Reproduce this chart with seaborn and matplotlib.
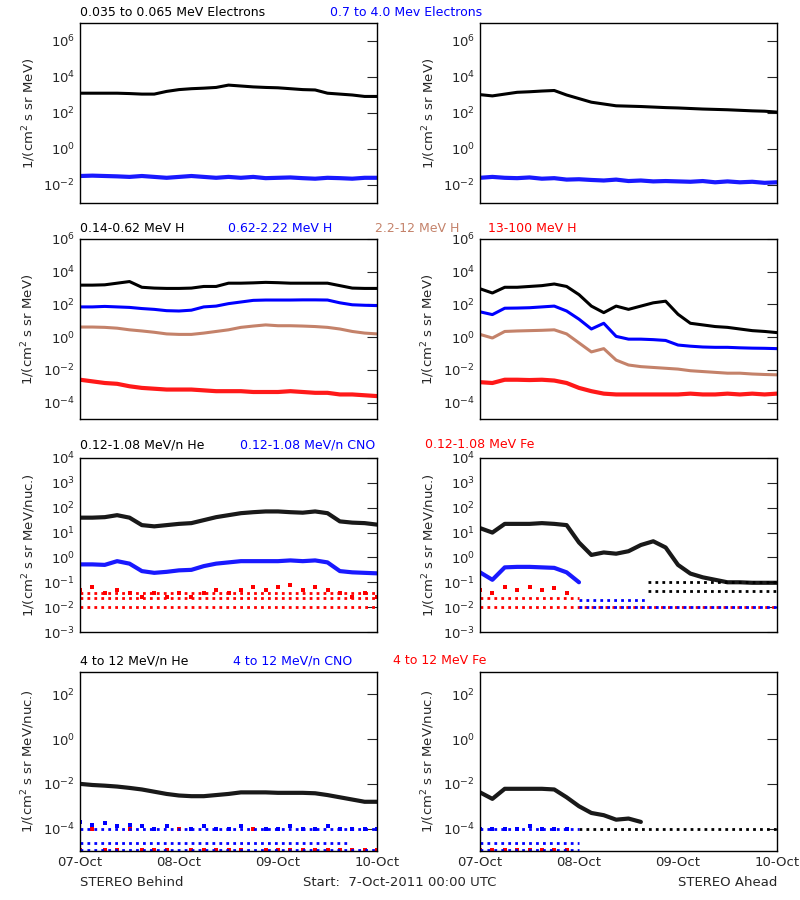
import numpy as np
import pandas as pd
import matplotlib
matplotlib.use("Agg")
import matplotlib.pyplot as plt
import seaborn as sns
from matplotlib.ticker import FixedLocator

sns.set_style("white")
plt.rcParams['font.family'] = ['DejaVu Sans']

# time axis: every 3 hours over 3 days (in days)
hours = list(range(0, 73, 3))
day_labels = ["07-Oct", "08-Oct", "09-Oct", "10-Oct"]

# ---- log10 flux values ----
# Row 1: electrons
e_lo_B = [3.1,3.1,3.1,3.1,3.08,3.05,3.05,3.2,3.3,3.35,3.38,3.42,3.55,3.5,3.45,3.42,3.4,3.35,3.3,3.28,3.1,3.05,3.0,2.92,2.92]
e_hi_B = [-1.5,-1.48,-1.5,-1.52,-1.55,-1.5,-1.55,-1.6,-1.55,-1.5,-1.55,-1.6,-1.55,-1.6,-1.55,-1.62,-1.6,-1.58,-1.62,-1.65,-1.6,-1.62,-1.65,-1.6,-1.6]
e_lo_A = [3.02,2.95,3.05,3.15,3.18,3.22,3.25,3.0,2.8,2.6,2.5,2.4,2.38,2.36,2.33,2.3,2.28,2.25,2.22,2.2,2.18,2.15,2.12,2.1,2.05]
e_hi_A = [-1.6,-1.55,-1.6,-1.62,-1.58,-1.65,-1.62,-1.7,-1.68,-1.72,-1.75,-1.7,-1.78,-1.75,-1.8,-1.78,-1.8,-1.82,-1.78,-1.85,-1.8,-1.85,-1.82,-1.88,-1.85]
# Row 2: protons
h1_B = [3.18,3.18,3.2,3.3,3.4,3.05,3.0,2.98,2.98,3.0,3.1,3.1,3.3,3.3,3.32,3.35,3.33,3.3,3.3,3.3,3.3,3.15,3.0,2.98,2.98]
h2_B = [1.85,1.85,1.88,1.85,1.82,1.75,1.7,1.62,1.6,1.65,1.85,1.9,2.05,2.15,2.25,2.27,2.27,2.27,2.28,2.28,2.27,2.1,1.98,1.95,1.93]
h3_B = [0.62,0.62,0.6,0.55,0.45,0.38,0.3,0.2,0.17,0.17,0.25,0.35,0.45,0.6,0.68,0.75,0.7,0.7,0.68,0.65,0.6,0.5,0.35,0.25,0.2]
h4_B = [-2.6,-2.7,-2.8,-2.85,-3.0,-3.1,-3.15,-3.2,-3.2,-3.2,-3.25,-3.3,-3.3,-3.3,-3.35,-3.35,-3.35,-3.3,-3.35,-3.4,-3.4,-3.5,-3.5,-3.55,-3.6]
h1_A = [2.96,2.7,3.05,3.05,3.1,3.15,3.25,3.1,2.6,1.9,1.5,1.9,1.7,1.9,2.1,2.2,1.4,0.85,0.75,0.65,0.6,0.5,0.4,0.35,0.28]
h2_A = [1.55,1.38,1.77,1.78,1.8,1.85,1.9,1.6,1.1,0.5,0.85,0.05,-0.12,-0.12,-0.15,-0.2,-0.48,-0.55,-0.6,-0.62,-0.62,-0.65,-0.67,-0.68,-0.7]
h3_A = [0.17,-0.05,0.35,0.38,0.4,0.42,0.45,0.2,-0.35,-0.9,-0.7,-1.4,-1.7,-1.8,-1.85,-1.9,-1.95,-2.05,-2.1,-2.15,-2.2,-2.2,-2.25,-2.28,-2.3]
h4_A = [-2.75,-2.8,-2.6,-2.6,-2.62,-2.6,-2.65,-2.8,-3.1,-3.3,-3.45,-3.5,-3.5,-3.5,-3.5,-3.5,-3.5,-3.45,-3.5,-3.5,-3.45,-3.5,-3.45,-3.5,-3.45]
# Row 3: low-energy heavy ions
he_lo_B = [1.6,1.6,1.62,1.7,1.6,1.3,1.25,1.3,1.35,1.38,1.5,1.62,1.7,1.78,1.82,1.85,1.85,1.82,1.8,1.85,1.78,1.45,1.4,1.38,1.32]
cno_lo_B = [-0.28,-0.28,-0.3,-0.15,-0.25,-0.55,-0.62,-0.58,-0.52,-0.5,-0.35,-0.25,-0.2,-0.15,-0.15,-0.15,-0.15,-0.12,-0.15,-0.12,-0.2,-0.55,-0.6,-0.62,-0.64]
fe_lo_B = [-1.3,-1.2,-1.45,-1.3,-1.45,-1.6,-1.45,-1.6,-1.45,-1.6,-1.45,-1.3,-1.45,-1.3,-1.2,-1.3,-1.2,-1.1,-1.3,-1.2,-1.3,-1.45,-1.6,-1.45,-1.6]
he_lo_A = [1.18,1.0,1.35,1.35,1.35,1.38,1.35,1.3,0.6,0.1,0.2,0.15,0.25,0.5,0.65,0.4,-0.3,-0.65,-0.8,-0.9,-1.0,-1.0,-1.02,-1.02,-1.02]
cno_lo_A = [-0.6,-0.9,-0.4,-0.38,-0.38,-0.4,-0.42,-0.6,-1.0]
fe_lo_A = [-1.3,-1.45,-1.2,-1.3,-1.2,-1.3,-1.25,-1.45]
# Row 4: high-energy heavy ions
he_hi_B = [-2.0,-2.05,-2.08,-2.12,-2.18,-2.25,-2.35,-2.45,-2.52,-2.55,-2.55,-2.5,-2.45,-2.38,-2.38,-2.38,-2.4,-2.4,-2.4,-2.42,-2.5,-2.6,-2.7,-2.8,-2.8]
cno_hi_B = [-3.7,-3.85,-3.75,-3.9,-3.85,-3.9,-4.0,-3.9,-4.0,-4.0,-3.9,-4.0,-4.0,-3.9,-4.0,-4.0,-4.0,-3.9,-4.0,-4.0,-3.9,-4.0,-4.0,-4.0,-4.0]
fe_hi_B = [-4.95,-4.0,-4.95,-4.95,-4.0,-4.95,-4.95,-4.95,-4.0,-4.95,-4.95,-4.95,-4.95,-4.95,-4.0,-4.95,-4.95,-4.95,-4.95,-4.95,-4.95,-4.95,-4.95,-4.95,-4.95]
he_hi_A = [-2.38,-2.67,-2.22,-2.22,-2.22,-2.22,-2.25,-2.6,-3.0,-3.3,-3.4,-3.6,-3.55,-3.7]
cno_hi_A = [-4.0,-4.0,-4.0,-4.0,-3.9,-4.0,-4.0,-4.0]
fe_hi_A = [-4.95,-4.95,-4.95,-4.95,-4.95,-4.95,-4.95,-4.95]

# quantized count floors (log10 value, start day, end day, colour)
floors_lo_B = [(-2.0, 0, 3, 'red'), (-1.62, 0, 3, 'red'), (-1.45, 0, 3, 'red')]
floors_lo_A = [(-2.0, 0, 3, 'red'), (-2.0, 1.0, 3, 'blue'), (-1.7, 1.0, 1.7, 'blue'),
               (-1.62, 0, 1.0, 'red'), (-1.0, 1.7, 3, 'black'), (-1.36, 1.7, 3, 'black')]
floors_hi_B = [(-4.95, 0, 3, 'blue'), (-4.65, 0, 2.7, 'blue'), (-4.0, 0, 3, 'blue')]
floors_hi_A = [(-4.0, 1.0, 3, 'black'), (-4.65, 0, 1.0, 'blue'), (-4.95, 0, 1.0, 'blue'), (-4.0, 0, 1.0, 'blue')]

BLK, BLU, BRN, RED = 'black', '#0000ff', '#c4826a', '#ff0000'
CMAP = {'black': BLK, 'blue': BLU, 'red': RED}

fig = plt.figure(figsize=(8, 9), dpi=100)
xl = [80/800, 480/800]
w = 297/800
rows = [(1-203/900, 180/900, (1e-3, 1e7)),
        (1-419/900, 180/900, (1e-5, 1e6)),
        (1-632/900, 174/900, (1e-3, 1e4)),
        (1-851/900, 179/900, (1e-5, 1e3))]

panels = [
    [[(e_lo_B, BLK, 'line'), (e_hi_B, BLU, 'dots')], [(e_lo_A, BLK, 'line'), (e_hi_A, BLU, 'dots')], None, None],
    [[(h1_B, BLK, 'line'), (h2_B, BLU, 'line'), (h3_B, BRN, 'line'), (h4_B, RED, 'dots')],
     [(h1_A, BLK, 'line'), (h2_A, BLU, 'line'), (h3_A, BRN, 'line'), (h4_A, RED, 'dots')], None, None],
    [[(he_lo_B, BLK, 'dots'), (cno_lo_B, BLU, 'dots'), (fe_lo_B, RED, 'pts')],
     [(he_lo_A, BLK, 'dots'), (cno_lo_A, BLU, 'dots'), (fe_lo_A, RED, 'pts')], floors_lo_B, floors_lo_A],
    [[(he_hi_B, BLK, 'dots'), (cno_hi_B, BLU, 'pts'), (fe_hi_B, RED, 'pts')],
     [(he_hi_A, BLK, 'dots'), (cno_hi_A, BLU, 'pts'), (fe_hi_A, RED, 'pts')], floors_hi_B, floors_hi_A],
]

ylabels = ["1/(cm$^2$ s sr MeV)"]*2 + ["1/(cm$^2$ s sr MeV/nuc.)"]*2
major_exps = [list(range(-2, 7, 2)), list(range(-4, 7, 2)), list(range(-3, 5)), list(range(-4, 3, 2))]

for r, (bot, h, ylim) in enumerate(rows):
    for c in range(2):
        ax = fig.add_axes([xl[c], bot, w, h])
        fl = panels[r][2 + c]
        if fl:
            for lv, a, b, col in fl:
                ax.hlines(10.0 ** lv, a, b, colors=CMAP[col], lw=2, linestyles=(0, (1, 1.5)))
        for vals, col, kind in panels[r][c]:
            df = pd.DataFrame({'t': np.array(hours[:len(vals)]) / 24.0, 'f': 10.0 ** np.array(vals)})
            if kind == 'line':
                sns.lineplot(data=df, x='t', y='f', color=col, lw=2.2, ax=ax)
            elif kind == 'dots':
                sns.lineplot(data=df, x='t', y='f', color=col, lw=3.0, ax=ax, alpha=0.9)
            else:
                sns.scatterplot(data=df, x='t', y='f', color=col, s=8, marker='s', linewidth=0, ax=ax)
        ax.set_yscale('log')
        ax.set_ylim(*ylim)
        ax.set_xlim(0, 3)
        ax.set_xlabel('')
        ax.set_ylabel(ylabels[r], fontsize=9.5)
        ax.yaxis.set_major_locator(FixedLocator([10.0 ** e for e in major_exps[r]]))
        ax.yaxis.set_minor_locator(FixedLocator([]))
        ax.set_xticks([0, 1, 2, 3])
        ax.set_xticks(np.arange(0, 3.01, 0.25), minor=True)
        ax.tick_params(which='both', direction='in', top=False, right=True, labelsize=9.5)
        ax.tick_params(which='major', length=7)
        ax.tick_params(which='minor', length=4)
        if r == 3:
            ax.set_xticklabels(day_labels, fontsize=9.5)
        else:
            ax.set_xticklabels([])
        for s in ax.spines.values():
            s.set_color('black'); s.set_linewidth(1)

def title_row(y, items):
    for x, txt, col in items:
        fig.text(x/800, 1 - y/900, txt, color=col, fontsize=9, va='center', ha='left')

title_row(13, [(80, "0.035 to 0.065 MeV Electrons", BLK), (330, "0.7 to 4.0 Mev Electrons", BLU)])
title_row(229, [(80, "0.14-0.62 MeV H", BLK), (228, "0.62-2.22 MeV H", BLU), (375, "2.2-12 MeV H", BRN), (488, "13-100 MeV H", RED)])
title_row(445, [(80, "0.12-1.08 MeV/n He", BLK), (240, "0.12-1.08 MeV/n CNO", BLU), (425, "0.12-1.08 MeV Fe", RED)])
title_row(661, [(80, "4 to 12 MeV/n He", BLK), (233, "4 to 12 MeV/n CNO", BLU), (393, "4 to 12 MeV Fe", RED)])
fig.text(80/800, 1 - 882/900, "STEREO Behind", fontsize=9.5, va='center')
fig.text(400/800, 1 - 882/900, "Start:  7-Oct-2011 00:00 UTC", fontsize=9.5, va='center', ha='center')
fig.text(777/800, 1 - 882/900, "STEREO Ahead", fontsize=9.5, va='center', ha='right')

fig.savefig("out.png", dpi=100, facecolor='white')
